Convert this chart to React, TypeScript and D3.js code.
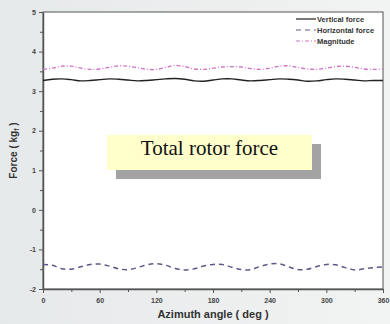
import { useEffect, useRef } from 'react';
import * as d3 from 'd3';

// azimuth angle (deg), one sample every 10 deg
const angles = [
  0, 10, 20, 30, 40, 50, 60, 70, 80, 90, 100, 110, 120, 130, 140, 150, 160, 170, 180,
  190, 200, 210, 220, 230, 240, 250, 260, 270, 280, 290, 300, 310, 320, 330, 340, 350, 360,
];

const verticalForce = [
  3.27, 3.3, 3.31, 3.29, 3.26, 3.27, 3.29, 3.31, 3.3, 3.28, 3.26, 3.27, 3.29, 3.31, 3.32, 3.3,
  3.26, 3.25, 3.28, 3.31, 3.31, 3.28, 3.26, 3.27, 3.29, 3.31, 3.3, 3.28, 3.25, 3.26, 3.29, 3.31,
  3.3, 3.28, 3.26, 3.27, 3.27,
];

const horizontalForce = [
  -1.38, -1.4, -1.49, -1.5, -1.44, -1.38, -1.37, -1.42, -1.49, -1.51, -1.46, -1.39, -1.36,
  -1.4, -1.48, -1.52, -1.49, -1.42, -1.38, -1.38, -1.45, -1.51, -1.51, -1.43, -1.37, -1.36,
  -1.44, -1.51, -1.5, -1.43, -1.38, -1.39, -1.46, -1.52, -1.49, -1.46, -1.44,
];

const magnitude = [
  3.55, 3.58, 3.63, 3.63, 3.58, 3.55, 3.56, 3.6, 3.64, 3.63, 3.59, 3.55, 3.55, 3.6, 3.65, 3.62,
  3.56, 3.55, 3.58, 3.61, 3.62, 3.61, 3.57, 3.55, 3.58, 3.63, 3.64, 3.6, 3.56, 3.55, 3.58, 3.62,
  3.63, 3.6, 3.56, 3.55, 3.56,
];

const xTicks = [0, 60, 120, 180, 240, 300, 360];
const yTicks = [-2, -1, 0, 1, 2, 3, 4, 5];

const legendLabels = ['Vertical force', 'Horizontal force', 'Magnitude'];

const App = () => {
  const svgRef = useRef<SVGSVGElement>(null);

  useEffect(() => {
    const width = 390;
    const height = 324;
    const margin = { top: 12, right: 7, bottom: 35, left: 43 };

    const svg = d3.select(svgRef.current);
    svg.selectAll('*').remove();
    svg.attr('width', width).attr('height', height);

    // background
    const defs = svg.append('defs');
    const grad = defs.append('linearGradient').attr('id', 'bg').attr('x1', 0).attr('x2', 1);
    grad.append('stop').attr('offset', '0%').attr('stop-color', '#e6e9ea');
    grad.append('stop').attr('offset', '100%').attr('stop-color', '#f2f3f3');
    svg.append('rect').attr('width', width).attr('height', height).attr('fill', 'url(#bg)');

    const x = d3.scaleLinear().domain([0, 360]).range([margin.left, width - margin.right]);
    const y = d3.scaleLinear().domain([-2, 5]).range([height - margin.bottom, margin.top]);

    // plot area
    svg.append('rect')
      .attr('x', x(0))
      .attr('y', y(5))
      .attr('width', x(360) - x(0))
      .attr('height', y(-2) - y(5))
      .attr('fill', '#ffffff')
      .attr('stroke', '#555')
      .attr('stroke-width', 1);

    const tickColor = '#555';
    const labelColor = '#444';
    const fmt = (d: d3.NumberValue) => String(d);

    // x axis
    const xAxis = svg.append('g')
      .attr('transform', `translate(0,${y(-2)})`)
      .call(d3.axisBottom(x).tickValues(xTicks).tickFormat(fmt).tickSize(4).tickSizeOuter(0));
    xAxis.select('.domain').attr('stroke', tickColor).attr('stroke-width', 1.5);
    xAxis.selectAll('line').attr('stroke', tickColor);
    xAxis.selectAll('text')
      .attr('fill', labelColor)
      .style('font', 'bold 7px Arial, "Liberation Sans", sans-serif')
      .attr('dy', '1em');
    svg.append('g')
      .attr('transform', `translate(0,${y(-2)})`)
      .call(d3.axisBottom(x).tickValues(d3.range(30, 360, 60)).tickSize(3).tickFormat(() => ''))
      .call(g => g.select('.domain').remove())
      .selectAll('line').attr('stroke', tickColor);

    // y axis
    const yAxis = svg.append('g')
      .attr('transform', `translate(${x(0)},0)`)
      .call(d3.axisLeft(y).tickValues(yTicks).tickFormat(fmt).tickSize(4).tickSizeOuter(0));
    yAxis.select('.domain').attr('stroke', tickColor).attr('stroke-width', 1.5);
    yAxis.selectAll('line').attr('stroke', tickColor);
    yAxis.selectAll('text')
      .attr('fill', labelColor)
      .style('font', 'bold 7px Arial, "Liberation Sans", sans-serif');
    svg.append('g')
      .attr('transform', `translate(${x(0)},0)`)
      .call(d3.axisLeft(y).tickValues(d3.range(-1.5, 5, 1)).tickSize(3).tickFormat(() => ''))
      .call(g => g.select('.domain').remove())
      .selectAll('line').attr('stroke', tickColor);

    // axis titles
    svg.append('text')
      .attr('x', (x(0) + x(360)) / 2)
      .attr('y', 318)
      .attr('text-anchor', 'middle')
      .attr('fill', '#333')
      .style('font', 'bold 11px Arial, "Liberation Sans", sans-serif')
      .text('Azimuth angle ( deg )');

    const yTitle = svg.append('text')
      .attr('transform', `translate(17,${(y(5) + y(-2)) / 2}) rotate(-90)`)
      .attr('text-anchor', 'middle')
      .attr('fill', '#333')
      .style('font', 'bold 10px Arial, "Liberation Sans", sans-serif');
    yTitle.append('tspan').text('Force ( kg');
    yTitle.append('tspan').attr('font-size', 7).attr('dy', 2).text('f');
    yTitle.append('tspan').attr('dy', -2).text(' )');

    // lines
    const series = [
      { values: verticalForce, color: '#222', dash: null, width: 1.4 },
      { values: horizontalForce, color: '#5a5a88', dash: '5,4', width: 1.5 },
      { values: magnitude, color: '#d070c8', dash: '4,2,1,2', width: 1.3 },
    ];

    const line = d3.line<number>()
      .x((_, i) => x(angles[i]))
      .y(d => y(d))
      .curve(d3.curveCatmullRom);

    series.forEach(s => {
      svg.append('path')
        .datum(s.values)
        .attr('fill', 'none')
        .attr('stroke', s.color)
        .attr('stroke-width', s.width)
        .attr('stroke-dasharray', s.dash)
        .attr('d', line);
    });

    // legend
    const legend = svg.append('g').attr('transform', `translate(${x(360) - 87},${y(5) + 7})`);
    series.forEach((s, i) => {
      legend.append('line')
        .attr('x1', 0)
        .attr('x2', 20)
        .attr('y1', i * 11)
        .attr('y2', i * 11)
        .attr('stroke', s.color)
        .attr('stroke-width', 1.2)
        .attr('stroke-dasharray', s.dash);
      legend.append('text')
        .attr('x', 21)
        .attr('y', i * 11)
        .attr('dy', '0.35em')
        .attr('fill', '#333')
        .style('font', 'bold 7.5px Arial, "Liberation Sans", sans-serif')
        .text(legendLabels[i]);
    });

    // annotation box
    const bx = 107;
    const by = 135;
    const bw = 205;
    const bh = 35;
    svg.append('rect')
      .attr('x', bx + 9)
      .attr('y', by + 9)
      .attr('width', bw)
      .attr('height', bh)
      .attr('fill', '#a3a3a3');
    svg.append('rect')
      .attr('x', bx)
      .attr('y', by)
      .attr('width', bw)
      .attr('height', bh)
      .attr('fill', '#ffffcc');
    svg.append('text')
      .attr('x', bx + bw / 2)
      .attr('y', by + 20)
      .attr('text-anchor', 'middle')
      .attr('fill', '#111')
      .style('font', '21px "Liberation Serif", "Times New Roman", serif')
      .text('Total rotor force');
  }, []);

  return (
    <div style={{ position: 'fixed', left: 0, top: 0 }}>
      <svg ref={svgRef} style={{ display: 'block' }}></svg>
    </div>
  );
};

export default App;
